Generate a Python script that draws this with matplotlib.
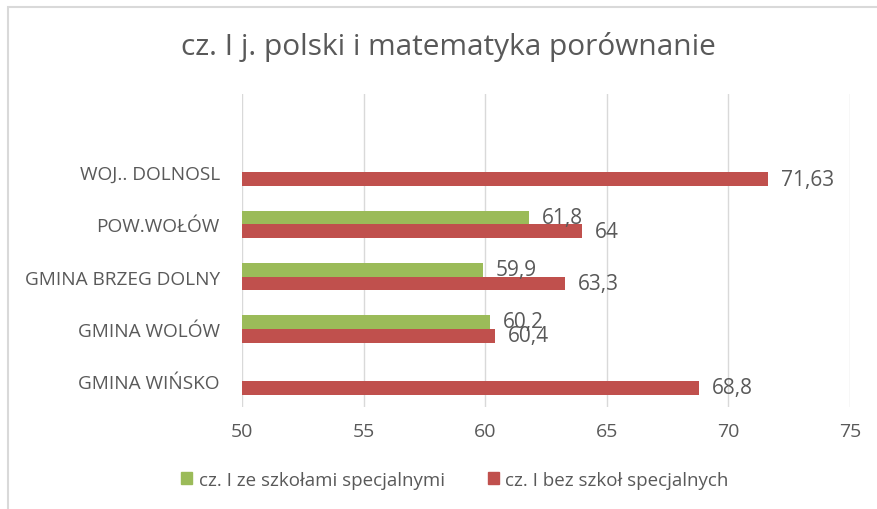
import matplotlib.pyplot as plt
import numpy as np

# dane
kategorie = ["GMINA WIŃSKO", "GMINA WOLÓW", "GMINA BRZEG DOLNY", "POW.WOŁÓW", "WOJ.. DOLNOSL"]
ze_specjalnymi = [None, 60.2, 59.9, 61.8, None]
bez_specjalnych = [68.8, 60.4, 63.3, 64, 71.63]
etykiety_x = [50, 55, 60, 65, 70, 75]

zielony = "#9BBB59"
czerwony = "#C0504D"
szary = "#595959"

plt.rcParams["font.family"] = ["Open Sans", "DejaVu Sans"]

fig = plt.figure(figsize=(8.78, 5.10), dpi=100)
ax = fig.add_axes([0.2756, 0.2, 0.6925, 0.6137])

y = np.arange(len(kategorie))
h = 0.265

def fmt(v):
    return ("%g" % v).replace(".", ",")

for i, v in enumerate(ze_specjalnymi):
    if v is None:
        continue
    ax.barh(y[i] + h / 2, v - 50, left=50, height=h, color=zielony)
    ax.annotate(fmt(v), (v, y[i] + h / 2), xytext=(9, 0), textcoords="offset points",
                va="center", ha="left", fontsize=15, color=szary)
for i, v in enumerate(bez_specjalnych):
    ax.barh(y[i] - h / 2, v - 50, left=50, height=h, color=czerwony)
    ax.annotate(fmt(v), (v, y[i] - h / 2), xytext=(9, 0), textcoords="offset points",
                va="center", ha="left", fontsize=15, color=szary)

ax.set_xlim(50, 75)
ax.set_ylim(-0.5, 5.5)
ax.set_xticks(etykiety_x)
ax.set_yticks(y)
ax.set_yticklabels(kategorie)
ax.tick_params(axis="x", length=0, labelsize=14, colors=szary, pad=11)
ax.tick_params(axis="y", length=0, labelsize=13.7, colors=szary, pad=16)
ax.grid(axis="x", color="#D9D9D9", linewidth=1)
ax.set_axisbelow(True)
for s in ax.spines.values():
    s.set_visible(False)

fig.text(0.511, 0.908, "cz. I j. polski i matematyka porównanie", ha="center", va="center",
         fontsize=21.5, color=szary)

uchwyty = [plt.Rectangle((0, 0), 1, 1, color=zielony), plt.Rectangle((0, 0), 1, 1, color=czerwony)]
fig.legend(uchwyty, ["cz. I ze szkołami specjalnymi", "cz. I bez szkoł specjalnych"],
           loc="center", bbox_to_anchor=(0.518, 0.057), ncol=2, frameon=False,
           fontsize=13.5, labelcolor=szary, handlelength=0.6, handleheight=0.6,
           handletextpad=0.35, columnspacing=2.3)

# ramka wykresu (widoczna tylko z lewej i u gory)
ramka = plt.Rectangle((8 / 878, -0.1), 1.0, 1.1 - 8 / 510, transform=fig.transFigure,
                      fill=False, edgecolor="#D9D9D9", linewidth=1.5)
fig.patches.append(ramka)

fig.savefig("out.png", dpi=100)
